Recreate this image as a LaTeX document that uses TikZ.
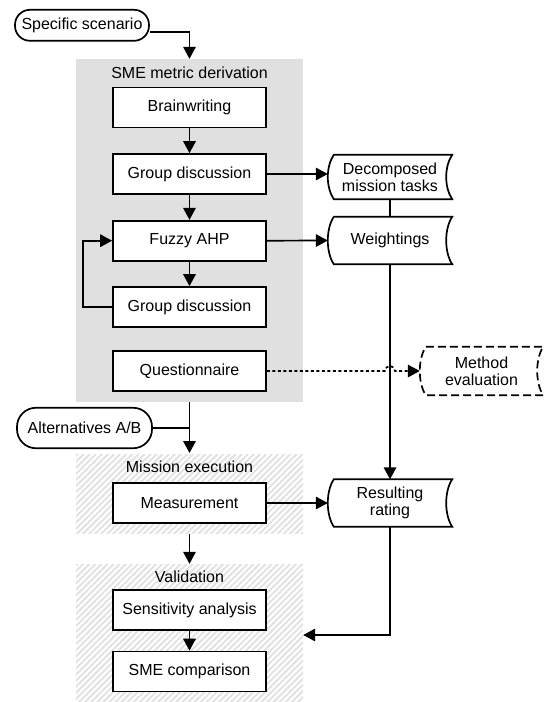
\documentclass[tikz,border=0pt]{standalone}
\usepackage{fontspec}
\setmainfont{Liberation Sans}
\usetikzlibrary{arrows.meta,patterns.meta,calc}
\definecolor{grpgray}{HTML}{E0E0E0}
\definecolor{hatchgray}{HTML}{E2E2E2}
\tikzset{
  base/.style={line width=1.7pt},
  proc/.style={base,draw,fill=white,minimum width=153pt,minimum height=40pt,inner sep=0pt,font=\fontsize{16}{19}\selectfont},
  term/.style={base,draw,fill=white,rounded corners=15pt,minimum height=31pt,inner sep=0pt,font=\fontsize{16}{19}\selectfont},
  stnode/.style={minimum width=124pt,inner sep=0pt,align=center,font=\fontsize{16}{19}\selectfont},
  grp/.style={fill=grpgray,minimum width=227pt,inner sep=0pt},
  hgrp/.style={pattern={Lines[angle=45,distance=4.3pt,line width=2pt]},pattern color=hatchgray,minimum width=227pt,inner sep=0pt},
  gtitle/.style={anchor=base,font=\fontsize{16}{19}\selectfont},
  arr/.style={base,-{Triangle[length=12pt,width=12.5pt]}},
  conn/.style={base},
  dots/.style={base,dash pattern=on 3pt off 2.5pt},
}
\newcommand\stdata[2][]{\draw[base,#1]
 ([xshift=6pt]#2.north west) -- (#2.north east)
 .. controls ([xshift=-8pt,yshift=-12pt]#2.north east) and ([xshift=-8pt,yshift=12pt]#2.south east) .. (#2.south east)
 -- ([xshift=6pt]#2.south west)
 .. controls ([xshift=-2pt,yshift=12pt]#2.south west) and ([xshift=-2pt,yshift=-12pt]#2.north west) .. cycle;}
\begin{document}
\begin{tikzpicture}[x=1pt,y=-1pt]
\useasboundingbox (0,0) rectangle (544,702);
% group regions
\node[grp,minimum height=343pt] (smebox) at (189.5,230.5) {};
\node[hgrp,minimum height=79pt] (mebox) at (189.5,493.5) {};
\node[hgrp,minimum height=138pt] (valbox) at (189.5,633) {};
\node[gtitle] (t1) at (189.5,78) {SME metric derivation};
\node[gtitle] (t2) at (189.5,472.5) {Mission execution};
\node[gtitle] (t3) at (189.5,582) {Validation};
% process boxes
\node[proc] (bw) at (189.5,107.5) {Brainwriting};
\node[proc] (gd1) at (189.5,174) {Group discussion};
\node[proc] (fz) at (189.5,240.7) {Fuzzy AHP};
\node[proc] (gd2) at (189.5,307) {Group discussion};
\node[proc] (qn) at (189.5,371) {Questionnaire};
\node[proc] (meas) at (189.5,503) {Measurement};
\node[proc] (sens) at (189.5,610) {Sensitivity analysis};
\node[proc] (smec) at (189.5,671.5) {SME comparison};
% terminals
\node[term,minimum width=134pt] (ss) at (82,25.3) {Specific scenario};
\node[term,minimum width=135pt,minimum height=40.5pt,rounded corners=19pt] (alt) at (84.5,428) {Alternatives A/B};
% stored data
\node[stnode,minimum height=44pt] (dec) at (390,177) {Decomposed\\[-2pt]mission tasks};
\node[stnode,minimum height=47pt] (wt) at (390,240.5) {Weightings};
\node[stnode,minimum height=47pt] (rr) at (390,503) {Resulting\\[-2pt]rating};
\node[stnode,minimum width=123pt,minimum height=48pt] (mev) at (481.5,371) {Method\\[-2pt]evaluation};
\stdata{dec}
\stdata{wt}
\stdata{rr}
\stdata[dash pattern=on 8pt off 4pt]{mev}
% connectors
\draw[arr] ([yshift=-6.5pt]ss.east) -| (smebox.north);
\draw[arr] (bw) -- (gd1);
\draw[arr] (gd1) -- (fz);
\draw[arr] (fz) -- (gd2);
\draw[arr] (gd2.west) -- ++(-29,0) |- (fz.west);
\draw[arr] (gd1.east) -- (gd1.east -| dec.west);
\draw[arr] (fz.east) -- (wt.west);
\draw[conn] (dec.south) -- (wt.north);
\draw[arr] (wt.south) -- (rr.north);
\draw[dots,-{Triangle[length=12pt,width=12.5pt]}] (qn.east) -- ([xshift=-5pt]qn.east -| wt.south) arc[start angle=180,end angle=0,radius=5pt] -- (mev.west);
\draw[arr] (smebox.south) -- (mebox.north);
\draw[conn] (alt.east) -- (alt.east -| smebox.south);
\draw[arr] (meas.east) -- (rr.west);
\draw[arr] (mebox.south) -- (valbox.north);
\draw[arr] (sens) -- (smec);
\draw[arr] (rr.south) |- ([yshift=-2pt]valbox.east);
\end{tikzpicture}
\end{document}
